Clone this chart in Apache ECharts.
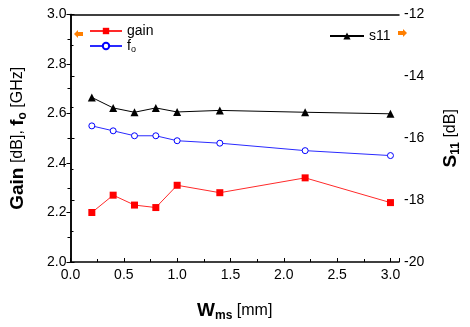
<!DOCTYPE html>
<html>
<head>
<meta charset="utf-8">
<script src="https://cdn.jsdelivr.net/npm/echarts@6/dist/echarts.min.js"></script>
<style>
  html, body { margin: 0; padding: 0; background: #fff; }
  #chart { width: 470px; height: 327px; }
</style>
</head>
<body>
<div id="chart"></div>
<script>
var wms = [0.2, 0.4, 0.6, 0.8, 1.0, 1.4, 2.2, 3.0];
var gain = [2.20, 2.27, 2.23, 2.22, 2.31, 2.28, 2.34, 2.24];
var fo = [2.55, 2.53, 2.51, 2.51, 2.49, 2.48, 2.45, 2.43];
var s11 = [-14.68, -15.02, -15.16, -15.02, -15.15, -15.10, -15.16, -15.21];

function pairs(xs, ys) {
    return xs.map(function (x, i) { return [x, ys[i]]; });
}

var font = 'Liberation Sans, Arial, sans-serif';
var chart = echarts.init(document.getElementById('chart'), null, { renderer: 'canvas' });

var option = {
    animation: false,
    textStyle: { fontFamily: font },
    grid: { left: 70, top: 14.5, width: 340, height: 250 },
    legend: [
        {
            orient: 'vertical', left: 84, top: 19, itemGap: 1,
            itemWidth: 32, itemHeight: 8,
            data: ['gain', 'fo'],
            formatter: function (n) { return n === 'fo' ? '{t|f}{s|o}' : '{t|gain}'; },
            textStyle: {
                color: '#000',
                rich: {
                    t: { fontSize: 14, color: '#000', fontFamily: font },
                    s: { fontSize: 9, color: '#000', fontFamily: font, padding: [8, 0, 0, 0] }
                }
            }
        },
        {
            left: 324, top: 24, itemWidth: 34, itemHeight: 9,
            data: ['s11'],
            textStyle: { fontSize: 14, color: '#000', fontFamily: font }
        }
    ],
    xAxis: [
        {
            type: 'value', min: 0, max: 3.08, interval: 0.5,
            axisLine: { lineStyle: { color: '#000', width: 1.5 } },
            axisTick: { inside: true, length: 4, lineStyle: { color: '#000' } },
            minorTick: { show: true, splitNumber: 2, length: 3, lineStyle: { color: '#000' } },
            splitLine: { show: false },
            axisLabel: { color: '#000', fontSize: 14, showMaxLabel: false, margin: 6,
                formatter: function (v) { return v.toFixed(1); } },
            name: '{b|W}{s|ms}{n| [mm]}',
            nameLocation: 'middle', nameGap: 38,
            nameTextStyle: {
                rich: {
                    b: { fontSize: 19, fontWeight: 'bold', color: '#000', fontFamily: font },
                    s: { fontSize: 12, fontWeight: 'bold', color: '#000', fontFamily: font, padding: [10, 0, 0, 0] },
                    n: { fontSize: 16, color: '#000', fontFamily: font }
                }
            }
        },
        {
            type: 'value', position: 'top', min: 0, max: 3.08,
            axisLine: { show: true, lineStyle: { color: '#000', width: 1.5 } },
            axisTick: { show: false }, axisLabel: { show: false }, splitLine: { show: false }
        }
    ],
    yAxis: [
        {
            type: 'value', min: 2.0, max: 3.0, interval: 0.2,
            axisLine: { show: true, lineStyle: { color: '#000', width: 1.5 } },
            axisTick: { length: 4, lineStyle: { color: '#000' } },
            minorTick: { show: true, splitNumber: 2, length: 3, lineStyle: { color: '#000' } },
            splitLine: { show: false },
            axisLabel: { color: '#000', fontSize: 14, margin: 4,
                formatter: function (v) { return v.toFixed(1); } },
            name: '{b|Gain}{n| [dB], }{b|f}{s|o}{n| [GHz]}',
            nameLocation: 'middle', nameRotate: 90, nameGap: 42,
            nameTextStyle: {
                rich: {
                    b: { fontSize: 19, fontWeight: 'bold', color: '#000', fontFamily: font },
                    s: { fontSize: 12, fontWeight: 'bold', color: '#000', fontFamily: font, padding: [10, 0, 0, 0] },
                    n: { fontSize: 16, color: '#000', fontFamily: font }
                }
            }
        },
        {
            type: 'value', min: -20, max: -12, interval: 2, position: 'right',
            axisLine: { show: true, lineStyle: { color: '#000', width: 1.5 } },
            axisTick: { length: 4, lineStyle: { color: '#000' } },
            minorTick: { show: true, splitNumber: 2, length: 3, lineStyle: { color: '#000' } },
            splitLine: { show: false },
            axisLabel: { color: '#000', fontSize: 14, margin: 5 },
            name: '{b|S}{s|11}{n| [dB]}',
            nameLocation: 'middle', nameRotate: 90, nameGap: 41,
            nameTextStyle: {
                rich: {
                    b: { fontSize: 19, fontWeight: 'bold', color: '#000', fontFamily: font },
                    s: { fontSize: 12, fontWeight: 'bold', color: '#000', fontFamily: font, padding: [10, 0, 0, 0] },
                    n: { fontSize: 16, color: '#000', fontFamily: font }
                }
            }
        }
    ],
    graphic: [
        { type: 'polygon', left: 74, top: 30, shape: { points: [[0, 4], [4, 0], [4, 2], [9, 2], [9, 6], [4, 6], [4, 8]] }, style: { fill: '#ff7f00' } },
        { type: 'polygon', left: 398, top: 29, shape: { points: [[9, 4], [5, 0], [5, 2], [0, 2], [0, 6], [5, 6], [5, 8]] }, style: { fill: '#ff7f00' } }
    ],
    series: [
        {
            name: 'gain', type: 'line', xAxisIndex: 0, yAxisIndex: 0,
            data: pairs(wms, gain),
            symbol: 'rect', symbolSize: 7,
            lineStyle: { color: '#ff2a2a', width: 1 },
            itemStyle: { color: '#ff0000' }
        },
        {
            name: 'fo', type: 'line', xAxisIndex: 0, yAxisIndex: 0,
            data: pairs(wms, fo),
            symbol: 'circle', symbolSize: 6,
            lineStyle: { color: '#2a2aff', width: 1 },
            itemStyle: { color: '#fff', borderColor: '#0000ff', borderWidth: 1 }
        },
        {
            name: 's11', type: 'line', xAxisIndex: 0, yAxisIndex: 1,
            data: pairs(wms, s11),
            symbol: 'triangle', symbolSize: 8,
            lineStyle: { color: '#000', width: 1 },
            itemStyle: { color: '#000' }
        }
    ]
};

chart.setOption(option);
</script>
</body>
</html>
